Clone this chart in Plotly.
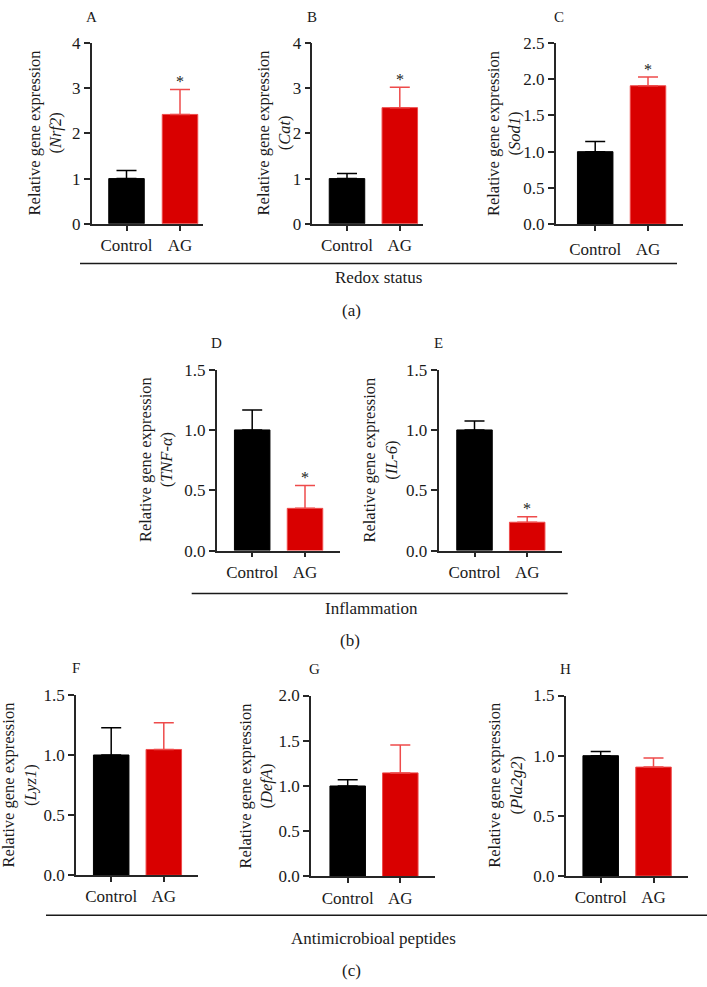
import plotly.graph_objects as go

# ---------------- data ----------------
panel_letters = ["A", "B", "C", "D", "E", "F", "G", "H"]
gene_labels = ["Nrf2", "Cat", "Sod1", "TNF-α", "IL-6", "Lyz1", "DefA", "Pla2g2"]
groups = ["Control", "AG"]
control_mean = [1.00, 1.00, 1.00, 1.00, 1.00, 1.00, 1.00, 1.00]
control_err = [0.18, 0.11, 0.14, 0.165, 0.075, 0.227, 0.07, 0.035]
ag_mean = [2.42, 2.57, 1.91, 0.35, 0.235, 1.046, 1.145, 0.905]
ag_err = [0.55, 0.45, 0.12, 0.19, 0.045, 0.222, 0.307, 0.075]
significant = [True, True, True, True, True, False, False, False]
y_max = [4, 4, 2.5, 1.5, 1.5, 1.5, 2.0, 1.5]
y_dtick = [1, 1, 0.5, 0.5, 0.5, 0.5, 0.5, 0.5]
y_format = [".0f", ".0f", ".1f", ".1f", ".1f", ".1f", ".1f", ".1f"]
section_titles = ["Redox status", "Inflammation", "Antimicrobioal peptides"]
section_tags = ["(a)", "(b)", "(c)"]

# ---------------- layout geometry (pixels) ----------------
W, H = 707, 987
# axis_left, axis_right, y_top, y_bottom, ctrl_center, ag_center, title_x
geom = [
    (91.7, 203.3, 34.7, 219.0, 126.5, 180.0, 45.0),
    (312.3, 422.7, 34.7, 219.0, 347.0, 399.8, 274.0),
    (555.7, 682.7, 34.7, 219.3, 595.2, 648.0, 503.5),
    (216.7, 340.0, 367.7, 552.2, 252.2, 305.0, 156.0),
    (438.5, 561.7, 367.7, 552.2, 474.5, 527.2, 380.5),
    (76.0, 198.0, 699.3, 883.3, 111.2, 163.8, 19.5),
    (311.0, 435.0, 700.0, 884.5, 347.7, 400.3, 255.5),
    (565.7, 688.0, 700.0, 884.0, 600.7, 653.5, 505.0),
]
bar_px = 35.5
section_geom = [  # line y, x0, x1, title (x,y), tag (x,y)
    (259.5, 80.0, 677.0, (378, 274), (351, 307)),
    (596.0, 191.7, 567.7, (371, 611), (350, 644)),
    (924.0, 46.0, 707.0, (374, 948), (351, 980)),
]

FONT = "Liberation Serif"
AXC = "#262626"
TXT = "#1a1a1a"
BLACK = "#000000"
RED = "#d90000"
RED_ERR = "#ee4b4b"

def px(x):
    return x / W

def py(y):
    return 1 - y / H

fig = go.Figure()
annotations = []
shapes = []

for i in range(8):
    left, right, ytop, ybot, cc, ac, tx = geom[i]
    s = ac - cc
    xr = [-(cc - left) / s, 1 + (right - ac) / s]
    bw = bar_px / s
    xa = "x" if i == 0 else f"x{i+1}"
    ya = "y" if i == 0 else f"y{i+1}"
    fig.add_trace(go.Bar(
        x=[groups[0]], y=[control_mean[i]], width=bw,
        marker=dict(color=BLACK, line=dict(color=BLACK, width=1)),
        error_y=dict(type="data", array=[control_err[i]], arrayminus=[0], symmetric=False,
                     color=BLACK, thickness=1.5, width=10),
        xaxis=xa, yaxis=ya, showlegend=False, hoverinfo="skip"))
    fig.add_trace(go.Bar(
        x=[groups[1]], y=[ag_mean[i]], width=bw,
        marker=dict(color=RED, line=dict(color=RED_ERR, width=1)),
        error_y=dict(type="data", array=[ag_err[i]], arrayminus=[0], symmetric=False,
                     color=RED_ERR, thickness=1.5, width=10),
        xaxis=xa, yaxis=ya, showlegend=False, hoverinfo="skip"))

    xkey = "xaxis" if i == 0 else f"xaxis{i+1}"
    ykey = "yaxis" if i == 0 else f"yaxis{i+1}"
    fig.layout[xkey] = dict(
        domain=[px(left), px(right)], anchor=ya, type="category",
        categoryorder="array", categoryarray=groups, range=xr,
        showline=True, linecolor=AXC, linewidth=1.5, ticks="outside",
        ticklen=5, tickwidth=1.5, tickcolor=AXC, showgrid=False, zeroline=False,
        tickfont=dict(family=FONT, size=17, color=TXT),
        ticklabelstandoff=4 if i == 2 else 0,
    )
    fig.layout[ykey] = dict(
        domain=[py(ybot), py(ytop)], anchor=xa, range=[0, y_max[i]],
        dtick=y_dtick[i], tick0=0, tickformat=y_format[i],
        showline=True, linecolor=AXC, linewidth=1.5, ticks="outside",
        ticklen=6, tickwidth=1.5, tickcolor=AXC, showgrid=False, zeroline=False,
        tickfont=dict(family=FONT, size=17, color=TXT),
    )
    # panel letter
    annotations.append(dict(
        x=px(left + (3 if i in (2, 6) else 0)), y=py(ytop - 27), xref="paper", yref="paper",
        text=panel_letters[i], showarrow=False, xanchor="center", yanchor="middle",
        font=dict(family=FONT, size=15, color=TXT)))
    # y title
    annotations.append(dict(
        x=px(tx), y=py((ytop + ybot) / 2), xref="paper", yref="paper",
        text=f"Relative gene expression<br>(<i>{gene_labels[i]}</i>)",
        textangle=-90, showarrow=False, xanchor="center", yanchor="middle",
        font=dict(family=FONT, size=16.5, color=TXT)))
    # significance
    if significant[i]:
        annotations.append(dict(
            x=groups[1], y=ag_mean[i] + ag_err[i], xref=xa, yref=ya,
            text="*", showarrow=False, xanchor="center", yanchor="middle", yshift=8,
            font=dict(family=FONT, size=16, color=TXT)))

for k in range(3):
    ly, x0, x1, (ttx, tty), (tgx, tgy) = section_geom[k]
    shapes.append(dict(type="line", xref="paper", yref="paper",
                       x0=px(x0), x1=px(x1), y0=py(ly), y1=py(ly),
                       line=dict(color=TXT, width=1.5)))
    annotations.append(dict(x=px(ttx), y=py(tty), xref="paper", yref="paper",
                            text=section_titles[k], showarrow=False,
                            xanchor="center", yanchor="middle",
                            font=dict(family=FONT, size=17, color=TXT)))
    annotations.append(dict(x=px(tgx), y=py(tgy), xref="paper", yref="paper",
                            text=section_tags[k], showarrow=False,
                            xanchor="center", yanchor="middle",
                            font=dict(family=FONT, size=17, color=TXT)))

fig.update_layout(
    width=W, height=H, margin=dict(l=0, r=0, t=0, b=0),
    paper_bgcolor="white", plot_bgcolor="white",
    barmode="overlay", annotations=annotations, shapes=shapes,
    font=dict(family=FONT), hovermode=False,
)

fig.write_html("out.html", config={"displayModeBar": False},
               post_script="document.body.style.margin='0';")
